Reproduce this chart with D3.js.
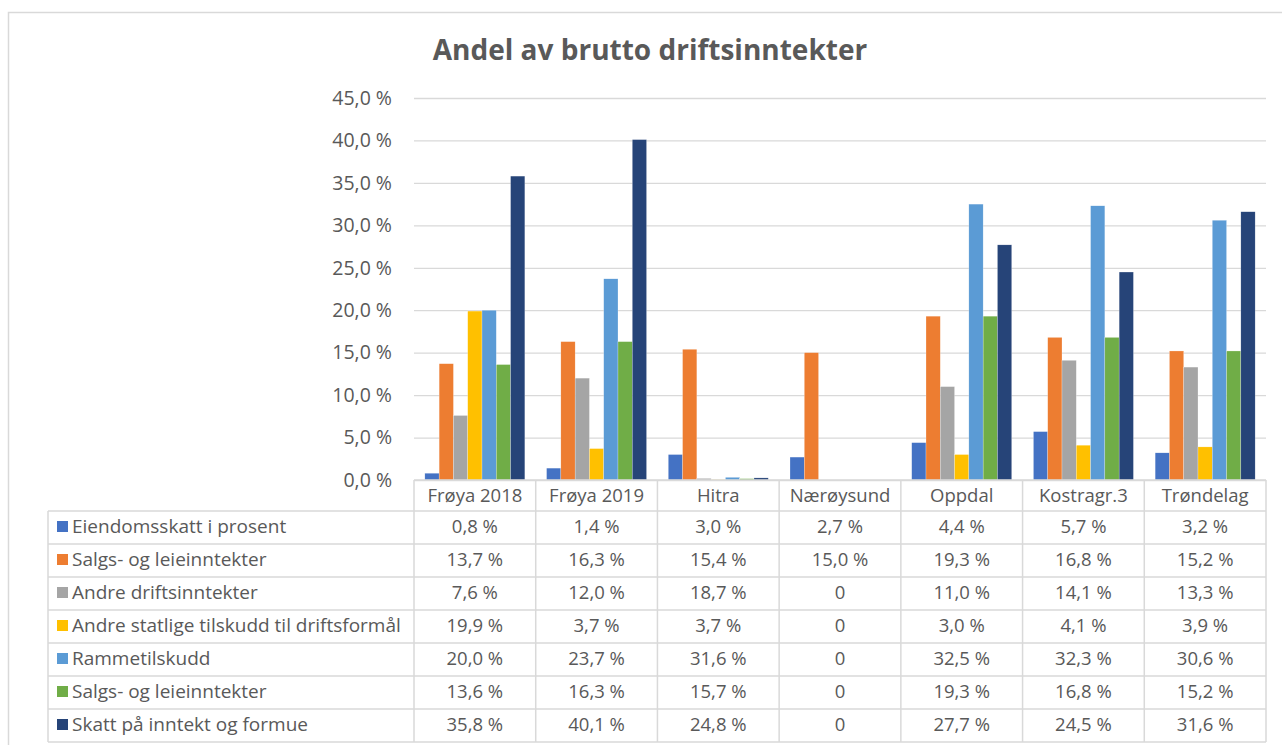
<!DOCTYPE html>
<html>
<head>
<meta charset="utf-8">
<script src="https://cdn.jsdelivr.net/npm/d3@7"></script>
<style>
  body { margin: 0; background: #fff; }
  text { font-family: "Open Sans", Calibri, sans-serif; fill: #595959; }
</style>
</head>
<body>
<script>
// canvas
var width = 1282;
var height = 745;

// data
var categories = ["Frøya 2018", "Frøya 2019", "Hitra", "Nærøysund", "Oppdal", "Kostragr.3", "Trøndelag"];
var seriesNames = ["Eiendomsskatt i prosent", "Salgs- og leieinntekter", "Andre driftsinntekter",
  "Andre statlige tilskudd til driftsformål", "Rammetilskudd", "Salgs- og leieinntekter", "Skatt på inntekt og formue"];
var colors = ["#4472C4", "#ED7D31", "#A5A5A5", "#FFC000", "#5B9BD5", "#70AD47", "#264478"];

// values as shown in the data table (%)
var eiendomsskatt = [0.8, 1.4, 3.0, 2.7, 4.4, 5.7, 3.2];
var salgs = [13.7, 16.3, 15.4, 15.0, 19.3, 16.8, 15.2];
var andreDrift = [7.6, 12.0, 18.7, 0, 11.0, 14.1, 13.3];
var statlige = [19.9, 3.7, 3.7, 0, 3.0, 4.1, 3.9];
var ramme = [20.0, 23.7, 31.6, 0, 32.5, 32.3, 30.6];
var salgs2 = [13.6, 16.3, 15.7, 0, 19.3, 16.8, 15.2];
var skatt = [35.8, 40.1, 24.8, 0, 27.7, 24.5, 31.6];
var series = [eiendomsskatt, salgs, andreDrift, statlige, ramme, salgs2, skatt];

// Hitra: what the bars actually show (part of the column stored as fractions)
var hitraPlotted = [3.0, 15.4, 0.187, 0.037, 0.316, 0.157, 0.248];

var yTicks = [0, 5, 10, 15, 20, 25, 30, 35, 40, 45];

var svg = d3.select("body").append("svg")
  .attr("width", width)
  .attr("height", height);

// outer frame
svg.append("rect")
  .attr("x", 8.5).attr("y", 12.5)
  .attr("width", 1300).attr("height", 760)
  .attr("fill", "none").attr("stroke", "#d9d9d9").attr("stroke-width", 1.5);

// title
svg.append("text")
  .attr("x", 650).attr("y", 60)
  .attr("text-anchor", "middle")
  .attr("font-size", 28).attr("font-weight", "bold")
  .text("Andel av brutto driftsinntekter");

var plotLeft = 414, plotRight = 1266, plotTop = 98, plotBottom = 480;

var x0 = d3.scaleBand().domain(categories).range([plotLeft, plotRight]).padding(0);
var x1 = d3.scaleBand().domain(d3.range(seriesNames.length))
  .range([0, x0.bandwidth()]).paddingInner(0).paddingOuter(0.76);
var y = d3.scaleLinear().domain([0, 45]).range([plotBottom, plotTop]);

var locale = d3.formatLocale({ decimal: ",", thousands: " ", grouping: [3], currency: ["", " kr"] });
var f1 = locale.format(".1f");
var pct = function (v) { return f1(v) + " %"; };

// gridlines + y labels
var yAxis = d3.axisLeft(y).tickValues(yTicks).tickFormat(pct)
  .tickSize(-(plotRight - plotLeft)).tickPadding(22);
var gy = svg.append("g").attr("transform", `translate(${plotLeft},0)`).call(yAxis);
gy.select(".domain").remove();
gy.selectAll(".tick line").attr("stroke", "#d9d9d9").attr("stroke-width", 1.3);
gy.selectAll(".tick text").attr("font-size", 19.5).attr("fill", "#595959")
  .style("font-family", "'Open Sans', Calibri, sans-serif");

// bars
var barData = [];
categories.forEach(function (c, ci) {
  series.forEach(function (s, si) {
    var v = c === "Hitra" ? hitraPlotted[si] : s[ci];
    barData.push({ cat: c, s: si, v: v });
  });
});

svg.append("g").selectAll("rect")
  .data(barData)
  .enter()
  .append("rect")
  .attr("x", d => x0(d.cat) + x1(d.s))
  .attr("y", d => y(d.v))
  .attr("width", x1.bandwidth())
  .attr("height", d => y(0) - y(d.v))
  .attr("fill", d => colors[d.s])
  .attr("stroke", "#fff").attr("stroke-width", 0.4).attr("stroke-opacity", 0.6);

// data table
var tableLeft = 48, headerTop = 480, headerBottom = 511, rowH = 33;
var rowY = d => headerBottom + d * rowH;
var tableBottom = rowY(seriesNames.length);
var grid = svg.append("g").attr("stroke", "#d9d9d9").attr("stroke-width", 1.5);

// horizontal lines
grid.append("line").attr("x1", plotLeft).attr("x2", plotRight).attr("y1", headerTop).attr("y2", headerTop);
d3.range(seriesNames.length + 1).forEach(function (i) {
  grid.append("line").attr("x1", tableLeft).attr("x2", plotRight).attr("y1", rowY(i)).attr("y2", rowY(i));
});
// vertical lines
grid.append("line").attr("x1", tableLeft).attr("x2", tableLeft).attr("y1", headerBottom).attr("y2", tableBottom);
categories.forEach(function (c) {
  grid.append("line").attr("x1", x0(c)).attr("x2", x0(c)).attr("y1", headerTop).attr("y2", tableBottom);
});
grid.append("line").attr("x1", plotRight).attr("x2", plotRight).attr("y1", headerTop).attr("y2", tableBottom);

// header labels
svg.append("g").selectAll("text")
  .data(categories)
  .enter()
  .append("text")
  .attr("x", d => x0(d) + x0.bandwidth() / 2)
  .attr("y", headerBottom - 9)
  .attr("text-anchor", "middle")
  .attr("font-size", 18.5)
  .text(d => d);

// rows
var rows = svg.append("g").selectAll("g")
  .data(seriesNames)
  .enter()
  .append("g")
  .attr("transform", (d, i) => `translate(0,${rowY(i)})`);

rows.append("rect")
  .attr("x", 57).attr("y", 10)
  .attr("width", 11).attr("height", 11)
  .attr("fill", (d, i) => colors[i]);

rows.append("text")
  .attr("x", 72).attr("y", 22)
  .attr("font-size", 19)
  .text(d => d);

rows.each(function (d, si) {
  d3.select(this).selectAll(".cell")
    .data(series[si])
    .enter()
    .append("text")
    .attr("class", "cell")
    .attr("x", (v, ci) => x0(categories[ci]) + x0.bandwidth() / 2)
    .attr("y", 22)
    .attr("text-anchor", "middle")
    .attr("font-size", 18.5)
    .text(v => v === 0 ? "0" : pct(v));
});
</script>
</body>
</html>
